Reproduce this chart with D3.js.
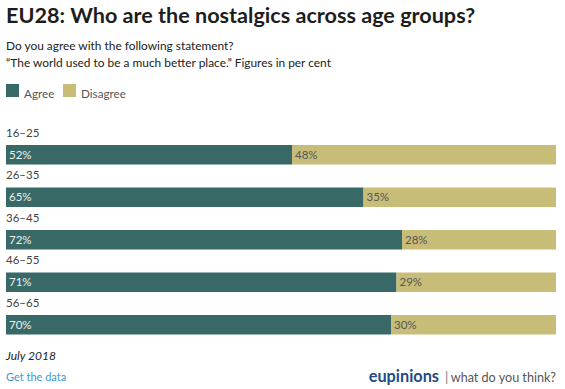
<!DOCTYPE html>
<html>
<head>
<meta charset="utf-8">
<script src="https://cdn.jsdelivr.net/npm/d3@7"></script>
<style>
  body { margin: 0; background: #fff; }
  text { font-family: Lato, "Open Sans", sans-serif; }
</style>
</head>
<body>
<svg width="565" height="389"></svg>
<script>
// chart data
var ageGroups = ["16–25", "26–35", "36–45", "46–55", "56–65"];
var agree = [52, 65, 72, 71, 70];
var disagree = [48, 35, 28, 29, 30];
var seriesNames = ["Agree", "Disagree"];
var seriesColors = ["#386966", "#c8bd78"];

var svg = d3.select("svg");

var x = d3.scaleLinear().domain([0, 100]).range([6, 556]),
    y = d3.scaleBand().domain(ageGroups).range([145, 334.5]).paddingInner(0.541).paddingOuter(0),
    z = d3.scaleOrdinal().domain(seriesNames).range(seriesColors);

/* title block */
svg.append("text")
    .attr("x", 6).attr("y", 23)
    .style("font-size", "21.6px").style("font-weight", "bold").attr("fill", "#1d1d1d")
    .text("EU28: Who are the nostalgics across age groups?");

svg.append("text")
    .attr("x", 6).attr("y", 50)
    .style("font-size", "11.9px").attr("fill", "#222")
    .text("Do you agree with the following statement?");

svg.append("text")
    .attr("x", 6).attr("y", 66.5)
    .style("font-size", "11.9px").attr("fill", "#222")
    .text("“The world used to be a much better place.” Figures in per cent");

/* legend */
var legendX = [6, 63];
var legend = svg.selectAll(".legend")
    .data(seriesNames)
    .enter().append("g")
    .attr("class", "legend")
    .attr("transform", function(d, i) { return "translate(" + legendX[i] + ",84)"; });

legend.append("rect")
    .attr("width", 13).attr("height", 13)
    .attr("fill", function(d) { return z(d); });

legend.append("text")
    .attr("x", 18).attr("y", 13.5)
    .style("font-size", "11.7px").attr("fill", "#555")
    .text(function(d) { return d; });

/* rows */
var rows = ageGroups.map(function(g, i) {
    return {group: g, agree: agree[i], disagree: disagree[i]};
});

var row = svg.selectAll(".row")
    .data(rows)
    .enter().append("g")
    .attr("class", "row");

row.append("text")
    .attr("x", 6)
    .attr("y", function(d) { return y(d.group) - 8; })
    .style("font-size", "11.5px").attr("fill", "#444")
    .text(function(d) { return d.group; });

row.append("rect")
    .attr("x", x(0))
    .attr("y", function(d) { return y(d.group); })
    .attr("width", function(d) { return x(d.agree) - x(0); })
    .attr("height", y.bandwidth())
    .attr("fill", z("Agree"));

row.append("rect")
    .attr("x", function(d) { return x(d.agree); })
    .attr("y", function(d) { return y(d.group); })
    .attr("width", function(d) { return x(d.agree + d.disagree) - x(d.agree); })
    .attr("height", y.bandwidth())
    .attr("fill", z("Disagree"));

row.append("text")
    .attr("x", x(0) + 3)
    .attr("y", function(d) { return y(d.group) + y.bandwidth() / 2; })
    .attr("dy", "0.36em")
    .style("font-size", "11.5px").attr("fill", "#eef2f1")
    .text(function(d) { return d.agree + "%"; });

row.append("text")
    .attr("x", function(d) { return x(d.agree) + 3; })
    .attr("y", function(d) { return y(d.group) + y.bandwidth() / 2; })
    .attr("dy", "0.36em")
    .style("font-size", "11.5px").attr("fill", "#555")
    .text(function(d) { return d.disagree + "%"; });

/* footer */
svg.append("text")
    .attr("x", 6).attr("y", 360)
    .style("font-size", "12px").style("font-style", "italic").attr("fill", "#222")
    .text("July 2018");

svg.append("text")
    .attr("x", 6).attr("y", 381)
    .style("font-size", "11px").attr("fill", "#3d9bd3")
    .text("Get the data");

svg.append("text")
    .attr("x", 439).attr("y", 382)
    .attr("text-anchor", "end")
    .style("font-size", "16.3px").style("font-weight", "bold").attr("fill", "#1f4b86")
    .text("eupinions");

svg.append("text")
    .attr("x", 445).attr("y", 382)
    .style("font-size", "13px").attr("fill", "#777")
    .text("|");

svg.append("text")
    .attr("x", 556).attr("y", 382)
    .attr("text-anchor", "end")
    .style("font-size", "12.6px").attr("fill", "#555")
    .text("what do you think?");
</script>
</body>
</html>
